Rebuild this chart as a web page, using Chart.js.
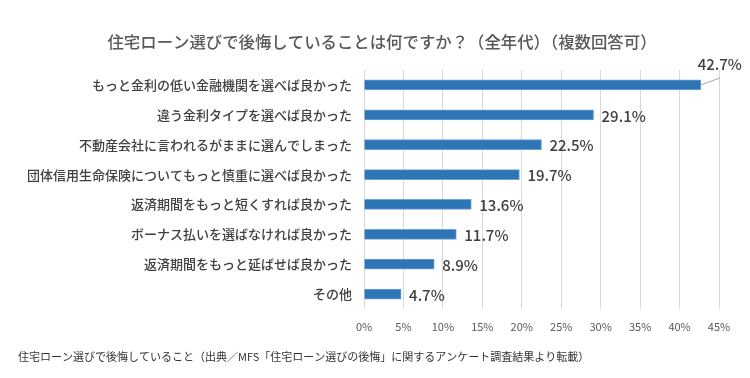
<!DOCTYPE html>
<html>
<head>
<meta charset="utf-8">
<script src="https://cdn.jsdelivr.net/npm/chart.js@4"></script>
<style>
  html, body { margin: 0; padding: 0; background: #fff; }
  #wrap { width: 750px; height: 378px; }
</style>
</head>
<body>
<div id="wrap"><canvas id="regretChart" width="750" height="378"></canvas></div>
<script>
const categories = [
  'もっと金利の低い金融機関を選べば良かった',
  '違う金利タイプを選べば良かった',
  '不動産会社に言われるがままに選んでしまった',
  '団体信用生命保険についてもっと慎重に選べば良かった',
  '返済期間をもっと短くすれば良かった',
  'ボーナス払いを選ばなければ良かった',
  '返済期間をもっと延ばせば良かった',
  'その他'
];
const percents = [42.7, 29.1, 22.5, 19.7, 13.6, 11.7, 8.9, 4.7];
const xTicks = [0, 5, 10, 15, 20, 25, 30, 35, 40, 45];

const titleText = '住宅ローン選びで後悔していることは何ですか？（全年代）（複数回答可）';
const sourceText = '住宅ローン選びで後悔していること（出典／MFS「住宅ローン選びの後悔」に関するアンケート調査結果より転載）';

const JP = '"Noto Sans CJK JP", "Noto Sans", sans-serif';

// title on top, source note at the bottom
const captions = {
  id: 'captions',
  afterDraw(chart) {
    const ctx = chart.ctx;
    ctx.save();
    ctx.textBaseline = 'middle';
    ctx.fillStyle = '#595959';
    ctx.font = '500 16.4px ' + JP;
    ctx.textAlign = 'center';
    ctx.fillText(titleText, 382, 42);
    ctx.fillStyle = '#333333';
    ctx.font = '11px ' + JP;
    ctx.textAlign = 'left';
    ctx.fillText(sourceText, 18, 357);
    ctx.restore();
  }
};

// value labels at the bar ends; the longest one sits above with a short leader
const valueLabels = {
  id: 'valueLabels',
  afterDatasetsDraw(chart) {
    const ctx = chart.ctx;
    const meta = chart.getDatasetMeta(0);
    ctx.save();
    ctx.font = '500 15px ' + JP;
    ctx.fillStyle = '#404040';
    ctx.textBaseline = 'middle';
    meta.data.forEach((bar, i) => {
      const txt = percents[i].toFixed(1) + '%';
      if (i === 0) {
        ctx.strokeStyle = '#a6a6a6';
        ctx.lineWidth = 1;
        ctx.beginPath();
        ctx.moveTo(bar.x, bar.y);
        ctx.lineTo(bar.x + 19, bar.y - 7);
        ctx.stroke();
        ctx.textAlign = 'center';
        ctx.fillText(txt, bar.x + 19, bar.y - 21);
      } else {
        ctx.textAlign = 'left';
        ctx.fillText(txt, bar.x + 8, bar.y + 1);
      }
    });
    ctx.restore();
  }
};

const ctx = document.getElementById('regretChart').getContext('2d');
new Chart(ctx, {
  type: 'bar',
  data: {
    labels: categories,
    datasets: [{
      data: percents,
      backgroundColor: '#2e75b6',
      borderColor: '#6fa3d6',
      borderWidth: 1,
      barThickness: 10
    }]
  },
  options: {
    indexAxis: 'y',
    responsive: false,
    animation: false,
    layout: { padding: { left: 0, right: 31, top: 70, bottom: 36 } },
    plugins: {
      legend: { display: false },
      tooltip: { enabled: false }
    },
    scales: {
      x: {
        min: 0,
        max: 45,
        afterBuildTicks(axis) { axis.ticks = xTicks.map(v => ({ value: v })); },
        afterFit(axis) { axis.height = 33; },
        grid: { color: '#d9d9d9', drawTicks: false },
        border: { display: false },
        ticks: {
          padding: 11,
          color: '#595959',
          font: { family: JP, size: 11 },
          callback: v => v + '%'
        }
      },
      y: {
        afterFit(axis) { axis.width = 364; },
        grid: { display: false, drawTicks: false },
        border: { display: false },
        ticks: {
          padding: 12,
          color: '#404040',
          font: { family: JP, size: 13, weight: '500' }
        }
      }
    }
  },
  plugins: [valueLabels, captions]
});
</script>
</body>
</html>
